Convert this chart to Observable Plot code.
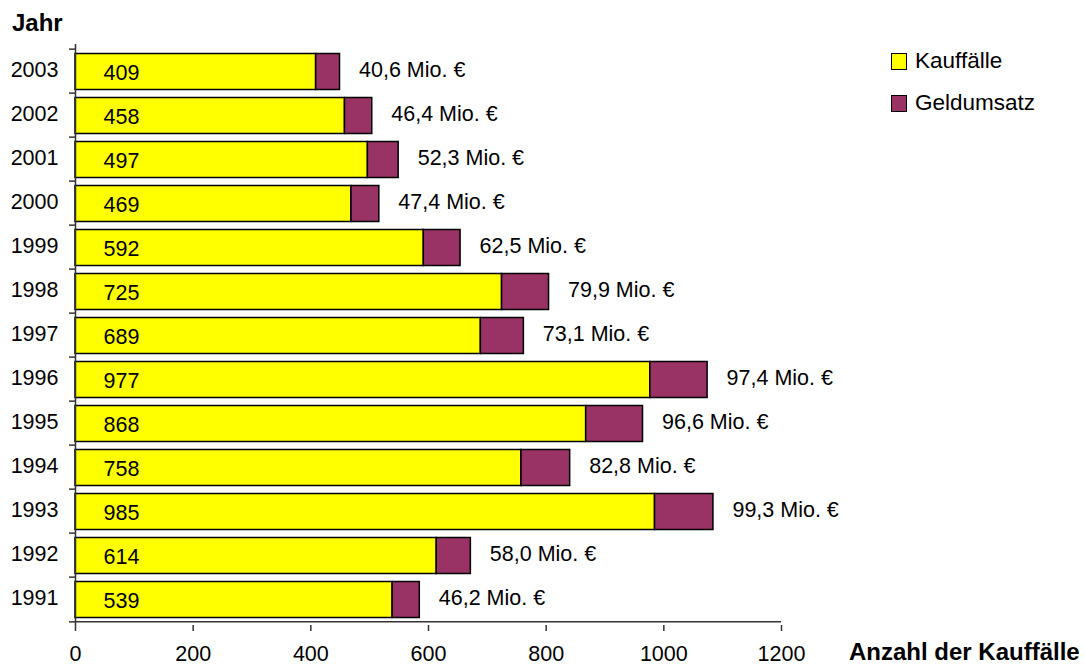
<!DOCTYPE html>
<html><head><meta charset="utf-8">
<script src="https://cdn.jsdelivr.net/npm/d3@7"></script>
<script src="https://cdn.jsdelivr.net/npm/@observablehq/plot@0.6"></script>
<style>
body{margin:0;background:#fff;font-family:Arial,"Liberation Sans",sans-serif;color:#000;}
#wrap{position:relative;width:1085px;height:666px;}
#wrap svg{position:absolute;left:0;top:0;}
.lab{position:absolute;white-space:nowrap;}
.b{font-weight:bold;font-size:24px;line-height:24px;}
.leg{font-size:22.5px;line-height:22.5px;}
.sw{position:absolute;width:16px;height:17px;box-sizing:border-box;border:1.5px solid #000;}
</style></head><body><div id="wrap"></div>
<script>
const years = ["2003","2002","2001","2000","1999","1998","1997","1996","1995","1994","1993","1992","1991"];
const kauffaelle = [409,458,497,469,592,725,689,977,868,758,985,614,539];
const geldumsatz = [40.6,46.4,52.3,47.4,62.5,79.9,73.1,97.4,96.6,82.8,99.3,58.0,46.2];
const xTicks = [0,200,400,600,800,1000,1200];
const seriesNames = ["Kauffälle","Geldumsatz"];
const seriesColors = ["#ffff00","#993366"];
const yTitle = "Jahr";
const xTitle = "Anzahl der Kauffälle";

const W = 1085, H = 666, mT = 44, mB = 41, mL = 75, mR = 304;
const step = (H - mT - mB) / years.length;
const FS = 21.5;

const rows = [];
years.forEach((y, i) => {
  rows.push({year: y, series: seriesNames[0], value: kauffaelle[i]});
  rows.push({year: y, series: seriesNames[1], value: geldumsatz[i]});
});
const totals = years.map((y, i) => ({year: y, k: kauffaelle[i], g: geldumsatz[i]}));
const fmt = v => v.toFixed(1).replace(".", ",") + " Mio. €";

const chart = Plot.plot({
  width: W, height: H,
  marginTop: mT, marginBottom: mB, marginLeft: mL, marginRight: mR,
  style: {fontFamily: "Arial, 'Liberation Sans', sans-serif", fontSize: FS + "px", color: "#000", background: "transparent"},
  x: {domain: [xTicks[0], xTicks[xTicks.length - 1]], axis: null},
  y: {domain: years, padding: 0, axis: null},
  color: {domain: seriesNames, range: seriesColors},
  marks: [
    Plot.barX(rows, Plot.stackX({x: "value", y: "year", fill: "series", order: null,
      stroke: "#000", strokeWidth: 1.5, insetTop: 4.5, insetBottom: 3.5})),
    Plot.text(totals, {x: xTicks[0], y: "year", text: d => String(d.k), textAnchor: "start",
      dx: 28, dy: 1.5, fontSize: FS, fill: "#000"}),
    Plot.text(totals, {x: d => d.k + d.g, y: "year", text: d => fmt(d.g), textAnchor: "start",
      dx: 19, dy: -1, fontSize: FS, fill: "#000"}),
    Plot.ruleX([xTicks[0]], {stroke: "#333", strokeWidth: 1.5}),
    Plot.ruleY([years[years.length - 1]], {dy: step / 2, stroke: "#333", strokeWidth: 1.5}),
    Plot.axisY({tickSize: 0, tickPadding: 17, fontSize: FS, label: null, stroke: "none", dy: -1}),
    Plot.axisY(years, {tickSize: 6, dy: -step / 2, tickFormat: () => "", label: null, stroke: "#333", strokeWidth: 1.5}),
    Plot.axisY([years[years.length - 1]], {tickSize: 6, dy: step / 2, tickFormat: () => "", label: null, stroke: "#333", strokeWidth: 1.5}),
    Plot.axisX(xTicks, {tickSize: 6, tickPadding: 14, fontSize: FS, label: null, stroke: "#333", strokeWidth: 1.5, tickFormat: d => String(d)})
  ]
});
const wrap = document.getElementById("wrap");
wrap.appendChild(chart);

function addLabel(text, left, top, cls) {
  const d = document.createElement("div");
  d.className = "lab " + cls;
  d.textContent = text;
  d.style.left = left + "px";
  d.style.top = top + "px";
  wrap.appendChild(d);
}
addLabel(yTitle, 12, 11, "b");
addLabel(xTitle, 849, 640, "b");
seriesNames.forEach((n, i) => {
  const s = document.createElement("div");
  s.className = "sw";
  s.style.background = seriesColors[i];
  s.style.left = "891px";
  s.style.top = (53 + i * 42) + "px";
  wrap.appendChild(s);
  addLabel(n, 915, 50 + i * 42, "leg");
});
</script>
</body></html>
